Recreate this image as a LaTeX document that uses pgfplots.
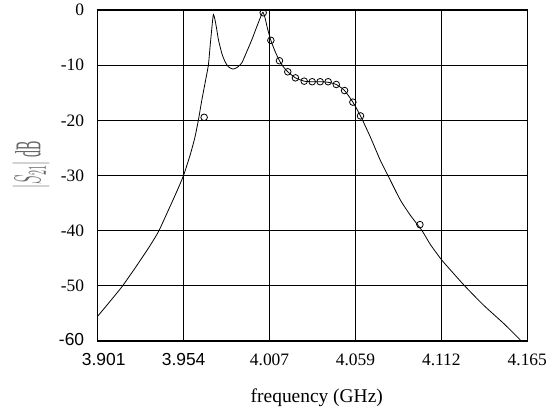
\documentclass[border=0pt]{standalone}
\usepackage{fontspec}
\setmainfont{Liberation Serif}
\newfontfamily\arialf{Liberation Sans}
\usepackage{pgfplots}
\pgfplotsset{compat=1.18}

\begin{document}
\begin{tikzpicture}[x=1bp,y=1bp]
\useasboundingbox (-97.7,-75) rectangle (454.3,341);
\begin{axis}[
  at={(0,0)}, anchor=south west,
  scale only axis,
  width=429.6bp, height=331bp,
  xmin=3.901, xmax=4.165,
  ymin=-60, ymax=0,
  xtick={3.901,3.9538,4.0066,4.0594,4.1122,4.165},
  xticklabels={{\arialf\hspace*{12bp}3.901},{\arialf 3.954},4.007,4.059,4.112,4.165},
  ytick={-60,-50,-40,-30,-20,-10,0},
  yticklabels={{\arialf\raisebox{4bp}{-60}},-50,-40,-30,-20,-10,{\raisebox{-3bp}{0}}},
  major tick length=0pt,
  grid=major,
  grid style={black, line width=1pt},
  axis line style={black, line width=1.1pt},
  tick label style={font=\fontsize{17.5}{18}\selectfont},
  xticklabel style={yshift=-9bp},
  yticklabel style={xshift=-10bp},
  xlabel={frequency (GHz)},
  xlabel style={at={(rel axis cs:0.51,0)}, anchor=center, yshift=-57bp,
    font=\fontsize{19.5}{20}\selectfont},
  clip mode=individual,
]
\addplot[black, line width=0.8pt, smooth, tension=0.35] coordinates {
  (3.9010,-55.5) (3.9075,-53.2) (3.9158,-50.2) (3.9239,-46.8) (3.9321,-43.2)
  (3.9383,-40.2) (3.9444,-36.3) (3.9496,-32.9) (3.9536,-30.1) (3.9578,-26.3)
  (3.9608,-23.0) (3.9629,-19.9) (3.9650,-16.3) (3.9670,-13.2) (3.9690,-10.0)
  (3.9701,-6.5) (3.9713,-2.8) (3.9721,-0.8) (3.9731,-1.8) (3.9742,-3.6)
  (3.9752,-5.4) (3.9773,-7.9) (3.9793,-9.4) (3.9813,-10.3) (3.9840,-10.7)
  (3.9865,-10.45) (3.9896,-9.55) (3.9926,-7.55) (3.9957,-5.4) (3.9984,-3.3)
  (4.0008,-1.5) (4.0025,-0.4) (4.0039,-1.5) (4.0053,-3.3) (4.0074,-5.5)
  (4.0100,-7.5) (4.0127,-9.2) (4.0151,-10.3) (4.0178,-11.2) (4.0225,-12.3)
  (4.0279,-12.9) (4.0328,-13.0) (4.0377,-13.0) (4.0426,-13.1) (4.0476,-13.5)
  (4.0527,-14.6) (4.0578,-16.7) (4.0625,-19.2) (4.0685,-23.0) (4.0746,-27.2)
  (4.0797,-30.2) (4.0869,-34.4) (4.0931,-37.2) (4.1003,-40.0) (4.1054,-42.5)
  (4.1121,-45.2) (4.1177,-47.1) (4.1265,-50.0) (4.1381,-53.5) (4.1504,-56.8)
  (4.1607,-59.8)
};
\addplot[only marks, mark=o, mark size=3.3bp, black, mark options={line width=0.8pt}] coordinates {
  (3.9664,-19.45) (4.0027,-0.5) (4.0074,-5.5) (4.0127,-9.2) (4.0178,-11.2)
  (4.0225,-12.3) (4.0279,-12.9) (4.0328,-13.0) (4.0377,-13.0) (4.0426,-13.0)
  (4.0476,-13.5) (4.0527,-14.6) (4.0578,-16.7) (4.0625,-19.2) (4.0990,-38.9)
};
\end{axis}
\node[rotate=90, text=black!60, inner sep=0pt] at (-66.7,176)
  {\scalebox{1}[2.6]{\fontsize{14}{14}\selectfont$|S_{21}|$ dB}};
\end{tikzpicture}
\end{document}
